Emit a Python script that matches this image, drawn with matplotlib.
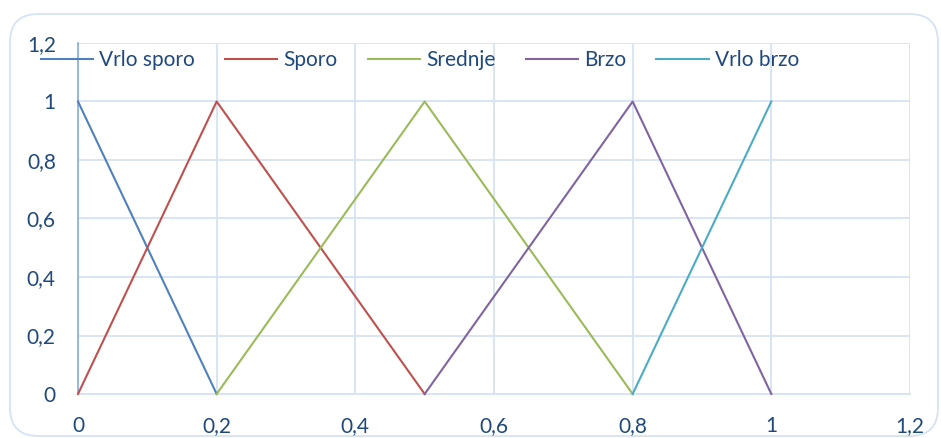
import matplotlib
matplotlib.use("Agg")
import matplotlib.pyplot as plt
from matplotlib.patches import FancyBboxPatch
from matplotlib.ticker import FuncFormatter, MultipleLocator

series_names = ["Vrlo sporo", "Sporo", "Srednje", "Brzo", "Vrlo brzo"]
vrlo_sporo_x = [0, 0.2]
vrlo_sporo_y = [1, 0]
sporo_x = [0, 0.2, 0.5]
sporo_y = [0, 1, 0]
srednje_x = [0.2, 0.5, 0.8]
srednje_y = [0, 1, 0]
brzo_x = [0.5, 0.8, 1.0]
brzo_y = [0, 1, 0]
vrlo_brzo_x = [0.8, 1.0]
vrlo_brzo_y = [0, 1]
colors = ["#4F81BD", "#C0504D", "#9BBB59", "#8064A2", "#4BACC6"]

text_color = "#1F497D"
grid_color = "#D6E3F4"

plt.rcParams['font.family'] = ['Lato', 'DejaVu Sans']

W, H = 941, 438
fig = plt.figure(figsize=(W / 100, H / 100), dpi=100)

# rounded outer border
border = FancyBboxPatch((10 / W, 2 / H), 928 / W, 422 / H,
                        boxstyle="round,pad=0,rounding_size=0.03",
                        transform=fig.transFigure, facecolor="white",
                        edgecolor="#D6E3F4", linewidth=1.3,
                        mutation_aspect=W / H, zorder=-5)
fig.patches.append(border)

ax = fig.add_axes([78 / W, 1 - 394 / H, (910 - 78) / W, (394 - 43) / H])
ax.set_facecolor("none")
ax.set_zorder(1)

xs = [vrlo_sporo_x, sporo_x, srednje_x, brzo_x, vrlo_brzo_x]
ys = [vrlo_sporo_y, sporo_y, srednje_y, brzo_y, vrlo_brzo_y]
for name, x, y, c in zip(series_names, xs, ys, colors):
    ax.plot(x, y, color=c, linewidth=1.5, label=name, zorder=3, clip_on=False)

ax.set_xlim(0, 1.2)
ax.set_ylim(0, 1.2)
ax.xaxis.set_major_locator(MultipleLocator(0.2))
ax.yaxis.set_major_locator(MultipleLocator(0.2))

def fmt(v, pos):
    s = ("%.1f" % v).rstrip("0").rstrip(".")
    return s.replace(".", ",")

ax.xaxis.set_major_formatter(FuncFormatter(fmt))
ax.yaxis.set_major_formatter(FuncFormatter(fmt))
ax.grid(True, color=grid_color, linewidth=1.3, zorder=0)
ax.set_axisbelow(True)
for s in ["top", "right"]:
    ax.spines[s].set_visible(False)
ax.spines["bottom"].set_color(grid_color)
ax.spines["bottom"].set_linewidth(1.3)
ax.spines["left"].set_color("#8DB3E2")
ax.spines["left"].set_linewidth(1.3)
ax.tick_params(axis="both", length=0, labelsize=15, labelcolor=text_color)
ax.tick_params(axis="x", pad=16)
ax.tick_params(axis="y", pad=16)

leg = fig.legend(loc="center", bbox_to_anchor=(420 / W, 1 - 60 / H), ncol=5,
                 frameon=False, fontsize=15, handlelength=2.5,
                 handletextpad=0.3, columnspacing=1.45, borderaxespad=0)
leg.set_zorder(10)
for t in leg.get_texts():
    t.set_color(text_color)

fig.savefig("out.png", dpi=100)
